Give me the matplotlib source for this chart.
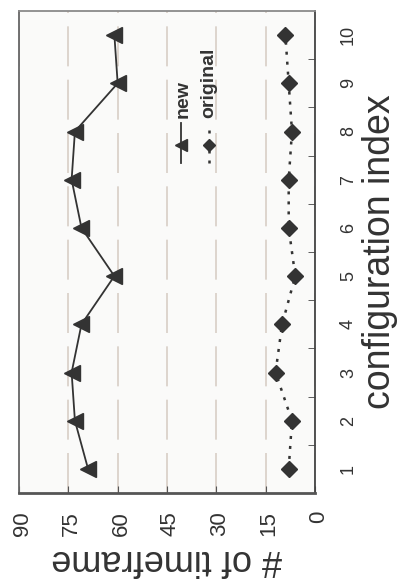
import matplotlib.pyplot as plt
import matplotlib.transforms as mtransforms

plt.rcParams['font.family'] = ['Liberation Sans', 'DejaVu Sans']

# data (the chart is drawn turned 90 degrees)
config_index = [1, 2, 3, 4, 5, 6, 7, 8, 9, 10]
new_counts = [69, 73, 74, 71, 61, 71, 74, 73, 60, 61]
original_counts = [8, 7, 12, 10, 6, 8, 8, 7, 8, 9]
value_ticks = [0, 15, 30, 45, 60, 75, 90]

dark = '#333333'

fig = plt.figure(figsize=(3.97, 5.86), dpi=100)
ax = fig.add_axes([19 / 397, 93 / 586, 296 / 397, 482 / 586])
ax.set_facecolor('#fafaf9')

# series: value on the horizontal axis, index on the vertical one
ax.plot(new_counts, config_index, color=dark, lw=1.3, marker='<', ms=11.5, zorder=3)
ax.plot(original_counts, config_index, color=dark, lw=1.8, ls=(0, (1.2, 2.8)),
        marker='D', ms=8.5, zorder=3)

ax.set_xlim(90, 0)
ax.set_ylim(0.5, 10.5)

# value axis at the bottom
ax.set_xticks(value_ticks)
ax.set_xticklabels([str(v) for v in value_ticks], rotation=90, fontsize=16, color=dark)
ax.tick_params(axis='x', direction='in', length=5, pad=13, color='#555555')
shift = mtransforms.ScaledTranslation(2.5 / 72, 0, fig.dpi_scale_trans)
for lab in ax.get_xticklabels():
    lab.set_transform(lab.get_transform() + shift)

# index axis at the right
ax.yaxis.tick_right()
ax.set_yticks(config_index)
ax.set_yticklabels([str(i) for i in config_index], rotation=90, va='center',
                   fontsize=13, color=dark)
ax.set_yticks([i + 0.5 for i in config_index[:-1]], minor=True)
ax.tick_params(axis='y', which='major', length=0, pad=18)
ax.tick_params(axis='y', which='minor', direction='in', length=5, color='#444444')

ax.grid(axis='x', color='#d8cec6', lw=1.2, ls=(0, (24, 8)))
ax.set_axisbelow(True)

ax.spines['top'].set_color('#8a8a8a')
ax.spines['top'].set_linewidth(1.3)
ax.spines['left'].set_color('#666666')
ax.spines['left'].set_linewidth(1.3)
ax.spines['bottom'].set_color('#555555')
ax.spines['bottom'].set_linewidth(2)
ax.spines['right'].set_color('#444444')
ax.spines['right'].set_linewidth(1.3)

# legend, drawn turned like the rest
ax.plot([0.547, 0.547, 0.547], [0.685, 0.722, 0.768], transform=ax.transAxes,
        color=dark, lw=1.3, marker='<', ms=8.5, markevery=[1])
ax.plot([0.642, 0.642, 0.642], [0.685, 0.722, 0.768], transform=ax.transAxes,
        color=dark, lw=1.8, ls=(0, (1.2, 2.8)), marker='D', ms=6.5, markevery=[1])
ax.text(0.554, 0.779, 'new', rotation=90, ha='center', va='bottom', fontsize=14,
        fontweight='bold', color=dark, transform=ax.transAxes)
ax.text(0.642, 0.779, 'original', rotation=90, ha='center', va='bottom', fontsize=14,
        fontweight='bold', color=dark, transform=ax.transAxes)

# axis titles
fig.text(167 / 397, 1 - 560 / 586, '# of timeframe', rotation=180, ha='center',
         va='center', fontsize=26, color=dark)
fig.text(380 / 397, 1 - 252 / 586, 'configuration index', rotation=90, ha='center',
         va='center', fontsize=27, color=dark)

fig.savefig('out.png', dpi=100)
